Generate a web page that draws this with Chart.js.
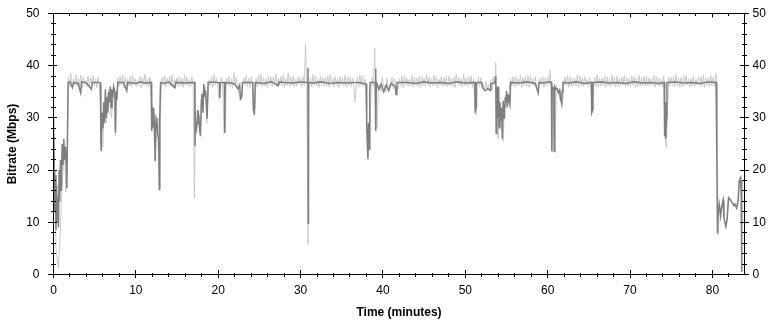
<!DOCTYPE html>
<html>
<head>
<meta charset="utf-8">
<title>Bitrate over time</title>
<script src="https://cdn.jsdelivr.net/npm/chart.js@4.4.1/dist/chart.umd.min.js"></script>
<style>
  html, body { margin: 0; padding: 0; background: #fff; }
</style>
</head>
<body>
<canvas id="chart" width="776" height="325"></canvas>
<script>
// time axis in minutes, bitrate in Mbps
const xMax = 83.9;
const yMax = 50;
const tickStep = 10;
const minorStep = 2;

// dark trace: (minute, Mbps)
const darkTime = [
  0.0, 0.08, 0.15, 0.22, 0.3, 0.38, 0.45, 0.52, 0.6, 0.68, 0.75, 0.85, 0.95, 1.05, 1.15, 1.25, 1.35, 1.45, 1.55, 1.62, 1.7, 1.78,
  2.0, 2.3, 2.45, 3.0, 3.3, 3.4, 4.0, 4.6, 4.7, 5.5, 5.7,
  5.75, 5.8, 5.9, 6.0, 6.1, 6.2, 6.3, 6.4, 6.5, 6.6, 6.7, 6.8, 6.9, 7.0, 7.1, 7.2, 7.3, 7.45, 7.53, 7.6, 7.7, 7.8,
  8.5, 8.9, 9.0, 10.0, 10.6, 11.0, 11.85,
  11.9, 11.95, 12.05, 12.15, 12.25, 12.35, 12.45, 12.55, 12.65, 12.75, 12.85, 12.9, 13.0,
  13.5, 14.0, 14.75, 14.85, 16.0, 17.15,
  17.18, 17.23, 17.33, 17.43, 17.53, 17.63, 17.73, 17.84, 17.94, 18.04, 18.15, 18.25, 18.35, 18.45, 18.55, 18.65, 18.77,
  19.5, 20.15, 20.2, 20.25, 20.75, 20.8, 20.85, 21.5, 22.0, 22.4, 22.6, 22.7, 22.85, 22.95,
  24.2, 24.27, 24.4, 24.5, 25.5, 26.5, 27.3, 27.4, 28.0, 29.0, 30.0,
  30.85, 30.9, 30.93, 30.96, 31.5, 32.5, 33.5, 34.5, 35.5, 36.5, 37.0,
  37.95, 38.03, 38.1, 38.18, 38.25, 38.32, 38.4, 38.45, 39.05, 39.1, 39.15, 39.2,
  39.5, 39.8, 40.1, 40.4, 40.7, 41.0, 41.5, 41.6, 41.7,
  43.0, 44.0, 45.0, 46.0, 47.0, 48.0, 49.0, 50.0, 51.15, 51.2, 51.3, 51.35,
  52.0, 52.1, 52.4, 52.7, 53.0, 53.1, 53.6,
  53.7, 53.75, 53.83, 53.9, 53.97, 54.05, 54.1, 54.2, 54.3, 54.4, 54.5, 54.6, 54.7, 54.77, 54.85, 54.93, 55.0, 55.1, 55.2, 55.3, 55.42, 55.5,
  56.5, 57.5, 58.5, 58.85, 58.95, 59.5, 60.2, 60.45,
  60.5, 60.55, 60.75, 60.8, 60.85, 61.0, 61.16, 61.3, 61.45, 61.57, 61.7, 61.75, 61.85,
  62.5, 63.5, 64.5, 65.3, 65.35, 65.45, 65.5,
  66.5, 67.5, 68.5, 69.5, 70.5, 71.5, 72.5, 73.5, 74.15,
  74.2, 74.3, 74.35, 74.42, 74.48,
  75.5, 76.5, 77.5, 78.5, 79.5, 80.45,
  80.5, 80.55, 80.62, 80.7, 80.83, 81.0, 81.1, 81.3, 81.4, 81.64, 81.8, 81.97, 82.12, 82.3, 82.45, 82.6, 82.73, 82.94, 83.13, 83.25, 83.42, 83.5, 83.55, 83.58
];
const darkRate = [
  30, 20, 12, 19, 8.5, 17, 10, 15, 9, 20, 14, 22, 16, 25, 21, 26, 22, 24.5, 21, 16.5, 27, 36.8,
  36.9, 35.8, 36.8, 36.6, 34.8, 36.9, 36.7, 35.5, 36.8, 36.8, 36.7,
  25.3, 23.6, 31, 28, 33, 29, 35.5, 30, 34, 31, 35, 33, 36, 32, 35.5, 34, 36, 35, 27.2, 35, 33.5, 36.8,
  36.8, 35.2, 36.8, 36.6, 36.9, 36.7, 36.8,
  27.5, 33, 28, 32, 29, 21.7, 30, 29.5, 27, 26, 16.3, 30, 36.8,
  36.6, 36.9, 35.8, 36.8, 36.7, 36.8,
  24.6, 31.3, 28, 29, 31.5, 30.5, 28, 26.5, 33, 34.6, 31, 36.5, 34, 35.3, 33, 29.8, 36.8,
  36.9, 36.7, 33.8, 36.8, 36.8, 27.1, 36.8, 36.7, 36.5, 35.5, 36.3, 33.6, 34.0, 36.8,
  36.8, 31.5, 31.0, 36.8, 36.6, 36.9, 36.2, 36.9, 36.8, 36.7, 36.9,
  36.8, 39.6, 9.8, 36.8, 36.7, 36.9, 36.6, 36.8, 36.7, 36.8, 36.8,
  36.5, 28.5, 25.5, 22.1, 29, 24, 35.2, 36.8, 36.8, 39.4, 27.5, 36.8,
  35.5, 36.5, 35.0, 36.3, 35.2, 36.6, 36.0, 34.5, 36.8,
  36.8, 36.6, 36.9, 36.7, 36.8, 36.6, 36.9, 36.7, 36.8, 31, 32, 36.8,
  36.8, 35.8, 35.2, 35.6, 35.3, 36.5, 36.8,
  38, 27, 28, 36, 30, 36, 28.1, 33, 29.4, 32, 26, 33.3, 30, 31.3, 34, 33, 35.2, 32, 34.5, 33.3, 32.5, 36.8,
  36.7, 36.9, 36.6, 34.8, 36.8, 36.7, 36.9, 36.8,
  23.6, 36.0, 35.5, 23.6, 36, 35.5, 35.6, 34.8, 35.3, 33.6, 32.7, 35, 36.8,
  36.7, 36.9, 36.6, 36.8, 31, 31.5, 36.8,
  36.9, 36.7, 36.8, 36.6, 36.9, 36.7, 36.8, 36.6, 36.8,
  26.5, 33, 26, 30, 36.8,
  36.9, 36.7, 36.8, 36.6, 36.9, 36.8,
  29, 25, 7.9, 12, 13.5, 11.2, 12.7, 14.2, 10.8, 9.2, 10.8, 14.7, 14.4, 14.0, 13.7, 13.2, 13.5, 12.7, 14.2, 17.9, 18.5, 15, 18, 0.5
];

// light (raw) trace: two readings per 0.3-minute bin, the first at the start and the second in the middle
const lightStep = 0.3;
const lightRate = [
  30, 5, 1.2, 11.5, 21, 15.8, 37.8, 38.6, 37.4, 38.3,          // 0
  37.6, 38.2, 37.9, 37.3, 38.0, 37.7, 38.1, 37.5, 37.9, 33,    // 3
  24.5, 30, 34, 31.5, 35, 26.5, 37.6, 37.9, 38.3, 37.7,        // 6
  37.4, 37.9, 38.2, 37.6, 37.3, 38.0, 37.8, 38.4, 37.5, 37.9,  // 9
  29, 22, 27, 17, 37.8, 38.1, 37.6, 37.9, 38.2, 37.4,          // 12
  37.7, 38.0, 37.5, 38.3, 37.8, 37.4, 37.9, 14.6, 27, 30,      // 15
  33.5, 35.5, 29, 37.3, 37.8, 38.2, 37.6, 33.5, 37.9, 27,      // 18
  37.6, 38.0, 37.5, 38.7, 37.8, 34.5, 33.5, 37.7, 38.1, 37.6,  // 21
  37.9, 30.5, 37.6, 38.2, 38.4, 37.7, 37.5, 38.1, 37.8, 38.0,  // 24
  38.4, 37.6, 37.9, 38.2, 37.5, 38.6, 37.8, 38.0, 37.4, 37.9,  // 27
  37.7, 37.9, 44.2, 5.8, 37.6, 38.3, 38.0, 37.5, 37.9, 37.7,   // 30
  37.8, 38.1, 38.3, 37.6, 37.9, 37.5, 38.0, 37.7, 38.2, 37.8,  // 33
  37.9, 37.6, 33, 37.8, 38.2, 38.1, 37.5, 24, 25.5, 37.8,      // 36
  43.3, 28, 36.5, 37.8, 36.2, 37.6, 36.4, 37.8, 37.5, 35.8,    // 39
  37.5, 38.0, 38.1, 37.7, 37.4, 38.2, 37.8, 37.6, 38.0, 37.9,  // 42
  37.6, 38.3, 37.9, 37.5, 38.2, 37.8, 37.4, 38.0, 37.7, 38.1,  // 45
  38.0, 37.6, 37.9, 38.4, 37.8, 37.5, 38.3, 37.7, 37.9, 38.1,  // 48
  37.6, 30.5, 37.9, 37.7, 36.5, 37.0, 36.4, 37.2, 37.8, 40.6,  // 51
  26, 31, 25.5, 32, 33, 37.5, 37.9, 38.0, 37.6, 38.2,          // 54
  37.7, 37.8, 38.1, 38.2, 37.5, 37.9, 35.5, 37.6, 38.0, 37.7,  // 57
  37.9, 39.2, 23.5, 23.3, 35, 33.5, 32.5, 37.8, 38.1, 37.9,    // 60
  37.6, 37.5, 38.2, 38.1, 37.7, 37.9, 37.4, 37.7, 31, 37.8,    // 63
  38.3, 37.6, 37.6, 38.0, 37.9, 37.5, 38.2, 37.8, 38.0, 37.6,  // 66
  37.8, 38.1, 37.8, 37.5, 38.1, 37.9, 37.6, 38.2, 37.7, 37.9,  // 69
  38.0, 37.7, 37.5, 38.2, 37.9, 37.6, 37.4, 38.1, 24.3, 37.8,  // 72
  37.8, 38.0, 38.4, 37.6, 37.7, 38.1, 38.1, 37.5, 37.6, 38.0,  // 75
  37.4, 37.9, 37.9, 38.2, 37.7, 37.6, 38.2, 37.8, 38.6, 7.5,   // 78
  11.5, 14.5, 9.0, 14.2, 14.6, 13.6, 13.0, 14.0, 18.8          // 81
];
const lightMid = [
  18, 3, 6, 17, 24, 20, 36.0, 35.8, 36.3, 36.1,                // 0.15
  36.2, 35.7, 36.4, 36.0, 35.9, 36.5, 36.1, 35.8, 36.3, 24.5,  // 3.15
  33, 29, 35.5, 30, 33, 34, 36.0, 36.3, 35.8, 36.2,            // 6.15
  36.1, 35.9, 36.4, 36.0, 36.2, 35.7, 36.3, 36.1, 35.9, 36.4,  // 9.15
  31, 26, 30, 35, 36.2, 35.9, 36.3, 36.0, 35.8, 36.4,          // 12.15
  36.0, 36.2, 35.8, 36.3, 36.1, 35.9, 36.2, 29, 31.5, 27,      // 15.15
  32, 36.0, 34, 36.1, 35.8, 36.3, 36.0, 36.2, 35.9, 28.5,      // 18.15
  36.3, 36.0, 35.8, 36.2, 36.1, 34, 35.9, 36.3, 36.0, 35.8,    // 21.15
  36.2, 32, 36.0, 36.3, 35.9, 36.1, 35.8, 36.4, 36.0, 36.2,    // 24.15
  35.9, 36.3, 36.1, 35.7, 36.2, 36.0, 36.3, 35.9, 36.1, 36.4,  // 27.15
  36.0, 36.2, 36.0, 36.0, 35.9, 36.3, 36.1, 35.8, 36.2, 36.0,  // 30.15
  36.1, 35.9, 36.3, 36.0, 36.2, 35.8, 36.4, 36.1, 35.9, 36.2,  // 33.15
  36.0, 36.3, 36.1, 35.9, 36.2, 36.0, 35.8, 27, 35, 36.1,      // 36.15
  32, 36.0, 35.0, 36.1, 34.9, 35.3, 36.0, 35.6, 36.2, 35.5,    // 39.15
  36.1, 35.8, 36.3, 36.0, 36.2, 35.9, 36.4, 36.0, 35.8, 36.2,  // 42.15
  36.0, 36.3, 35.9, 36.1, 36.2, 35.8, 36.3, 36.0, 36.1, 35.9,  // 45.15
  36.2, 36.0, 35.8, 36.3, 36.1, 35.9, 36.2, 36.0, 36.3, 35.8,  // 48.15
  33, 36.2, 36.0, 36.1, 35.2, 35.3, 35.1, 35.5, 36.3, 27,      // 51.15
  33, 28, 32, 34, 35.5, 36.2, 35.9, 36.1, 36.3, 35.8,          // 54.15
  36.2, 36.0, 35.9, 36.3, 36.1, 35.6, 36.0, 36.2, 35.8, 36.1,  // 57.15
  36.3, 35.6, 35.5, 36.2, 34.8, 35.5, 36.1, 36.2, 35.9, 36.0,  // 60.15
  36.2, 36.1, 35.8, 36.2, 36.0, 36.4, 35.9, 36.2, 36.3, 36.0,  // 63.15
  36.0, 36.1, 36.2, 35.8, 36.1, 36.0, 36.3, 35.9, 36.0, 36.2,  // 66.15
  36.3, 35.9, 36.1, 36.0, 36.2, 35.8, 36.0, 36.1, 36.2, 36.0,  // 69.15
  36.1, 36.2, 36.3, 35.9, 36.2, 36.1, 36.0, 26, 31, 36.2,      // 72.15
  36.2, 36.0, 36.1, 35.8, 36.0, 36.2, 36.3, 35.9, 36.1, 36.0,  // 75.15
  36.3, 36.1, 36.0, 35.8, 36.2, 36.0, 36.1, 36.0, 36.2, 12.5,  // 78.15
  12.8, 10.5, 9.8, 14.6, 14.0, 13.3, 12.9, 17.5, 18.2          // 81.15
];

const tickFont = { family: 'Liberation Sans', size: 12 };
const titleFont = { family: 'Liberation Sans', size: 12, weight: 'bold' };

// interleave the two readings of each bin
const lightPoints = [];
lightRate.forEach((v, i) => {
  lightPoints.push({ x: i * lightStep, y: v });
  lightPoints.push({ x: i * lightStep + lightStep / 2, y: lightMid[i] });
});

// box around the plot plus major/minor tick marks on all four sides
const frameTicks = {
  id: 'frameTicks',
  afterDraw(chart) {
    const { ctx, chartArea: a } = chart;
    const xs = chart.scales.x, ys = chart.scales.y;
    ctx.save();
    ctx.strokeStyle = '#000';
    ctx.lineWidth = 1;
    ctx.beginPath();
    ctx.rect(a.left, a.top, a.right - a.left, a.bottom - a.top);
    for (let v = 0; v <= yMax; v += minorStep) {
      const py = Math.floor(ys.getPixelForValue(v)) + 0.5;
      const major = v % tickStep === 0;
      ctx.moveTo(a.left - (major ? 5.5 : 2.5), py);
      ctx.lineTo(a.left + (major ? 3.5 : 2.5), py);
      ctx.moveTo(a.right - (major ? 4.5 : 2.5), py);
      ctx.lineTo(a.right + (major ? 4.5 : 2.5), py);
    }
    for (let t = 0; t <= xMax; t += minorStep) {
      const px = Math.floor(xs.getPixelForValue(t)) + 0.5;
      const major = t % tickStep === 0;
      ctx.moveTo(px, a.bottom - (major ? 4.5 : 1.5));
      ctx.lineTo(px, a.bottom + (major ? 3.5 : 2.5));
      ctx.moveTo(px, a.top);
      ctx.lineTo(px, a.top + (major ? 4 : 2.5));
    }
    ctx.stroke();
    ctx.restore();
  }
};

// fixed box sizes so the plot sits where the original one does
const fitY = w => s => { s.width = w; s.paddingTop = 0; s.paddingBottom = 0; };

new Chart(document.getElementById('chart'), {
  type: 'line',
  data: {
    datasets: [
      {
        label: 'Bitrate',
        data: darkTime.map((t, i) => ({ x: t, y: darkRate[i] })),
        borderColor: '#7f7f7f',
        borderWidth: 1.5,
        pointRadius: 0,
        tension: 0,
      },
      {
        label: 'Bitrate (raw)',
        data: lightPoints,
        borderColor: '#cbcbcb',
        borderWidth: 1,
        pointRadius: 0,
        tension: 0,
      },
    ],
  },
  options: {
    responsive: false,
    animation: false,
    events: [],
    layout: { padding: { top: 13.5, left: 0, right: 0, bottom: 0 } },
    plugins: { legend: { display: false }, tooltip: { enabled: false } },
    scales: {
      x: {
        type: 'linear', min: 0, max: xMax,
        grid: { display: false, drawTicks: false }, border: { display: false },
        ticks: { stepSize: tickStep, includeBounds: false, autoSkip: false, maxRotation: 0, padding: 9, color: '#000', font: tickFont },
        title: { display: true, text: 'Time (minutes)', color: '#000', font: titleFont, padding: { top: 0, bottom: 5 } },
        afterFit: s => { s.height = 50.5; s.paddingLeft = 0; s.paddingRight = 0; },
      },
      y: {
        min: 0, max: yMax,
        grid: { display: false, drawTicks: false }, border: { display: false },
        ticks: { stepSize: tickStep, padding: 14, color: '#000', font: tickFont },
        title: { display: true, text: 'Bitrate (Mbps)', color: '#000', font: titleFont, padding: { top: 5, bottom: 0 } },
        afterFit: fitY(53.5),
      },
      y2: {
        position: 'right', min: 0, max: yMax,
        grid: { display: false, drawTicks: false }, border: { display: false },
        ticks: { stepSize: tickStep, padding: 8, color: '#000', font: tickFont },
        afterFit: fitY(31.5),
      },
    },
  },
  plugins: [frameTicks],
});
</script>
</body>
</html>
